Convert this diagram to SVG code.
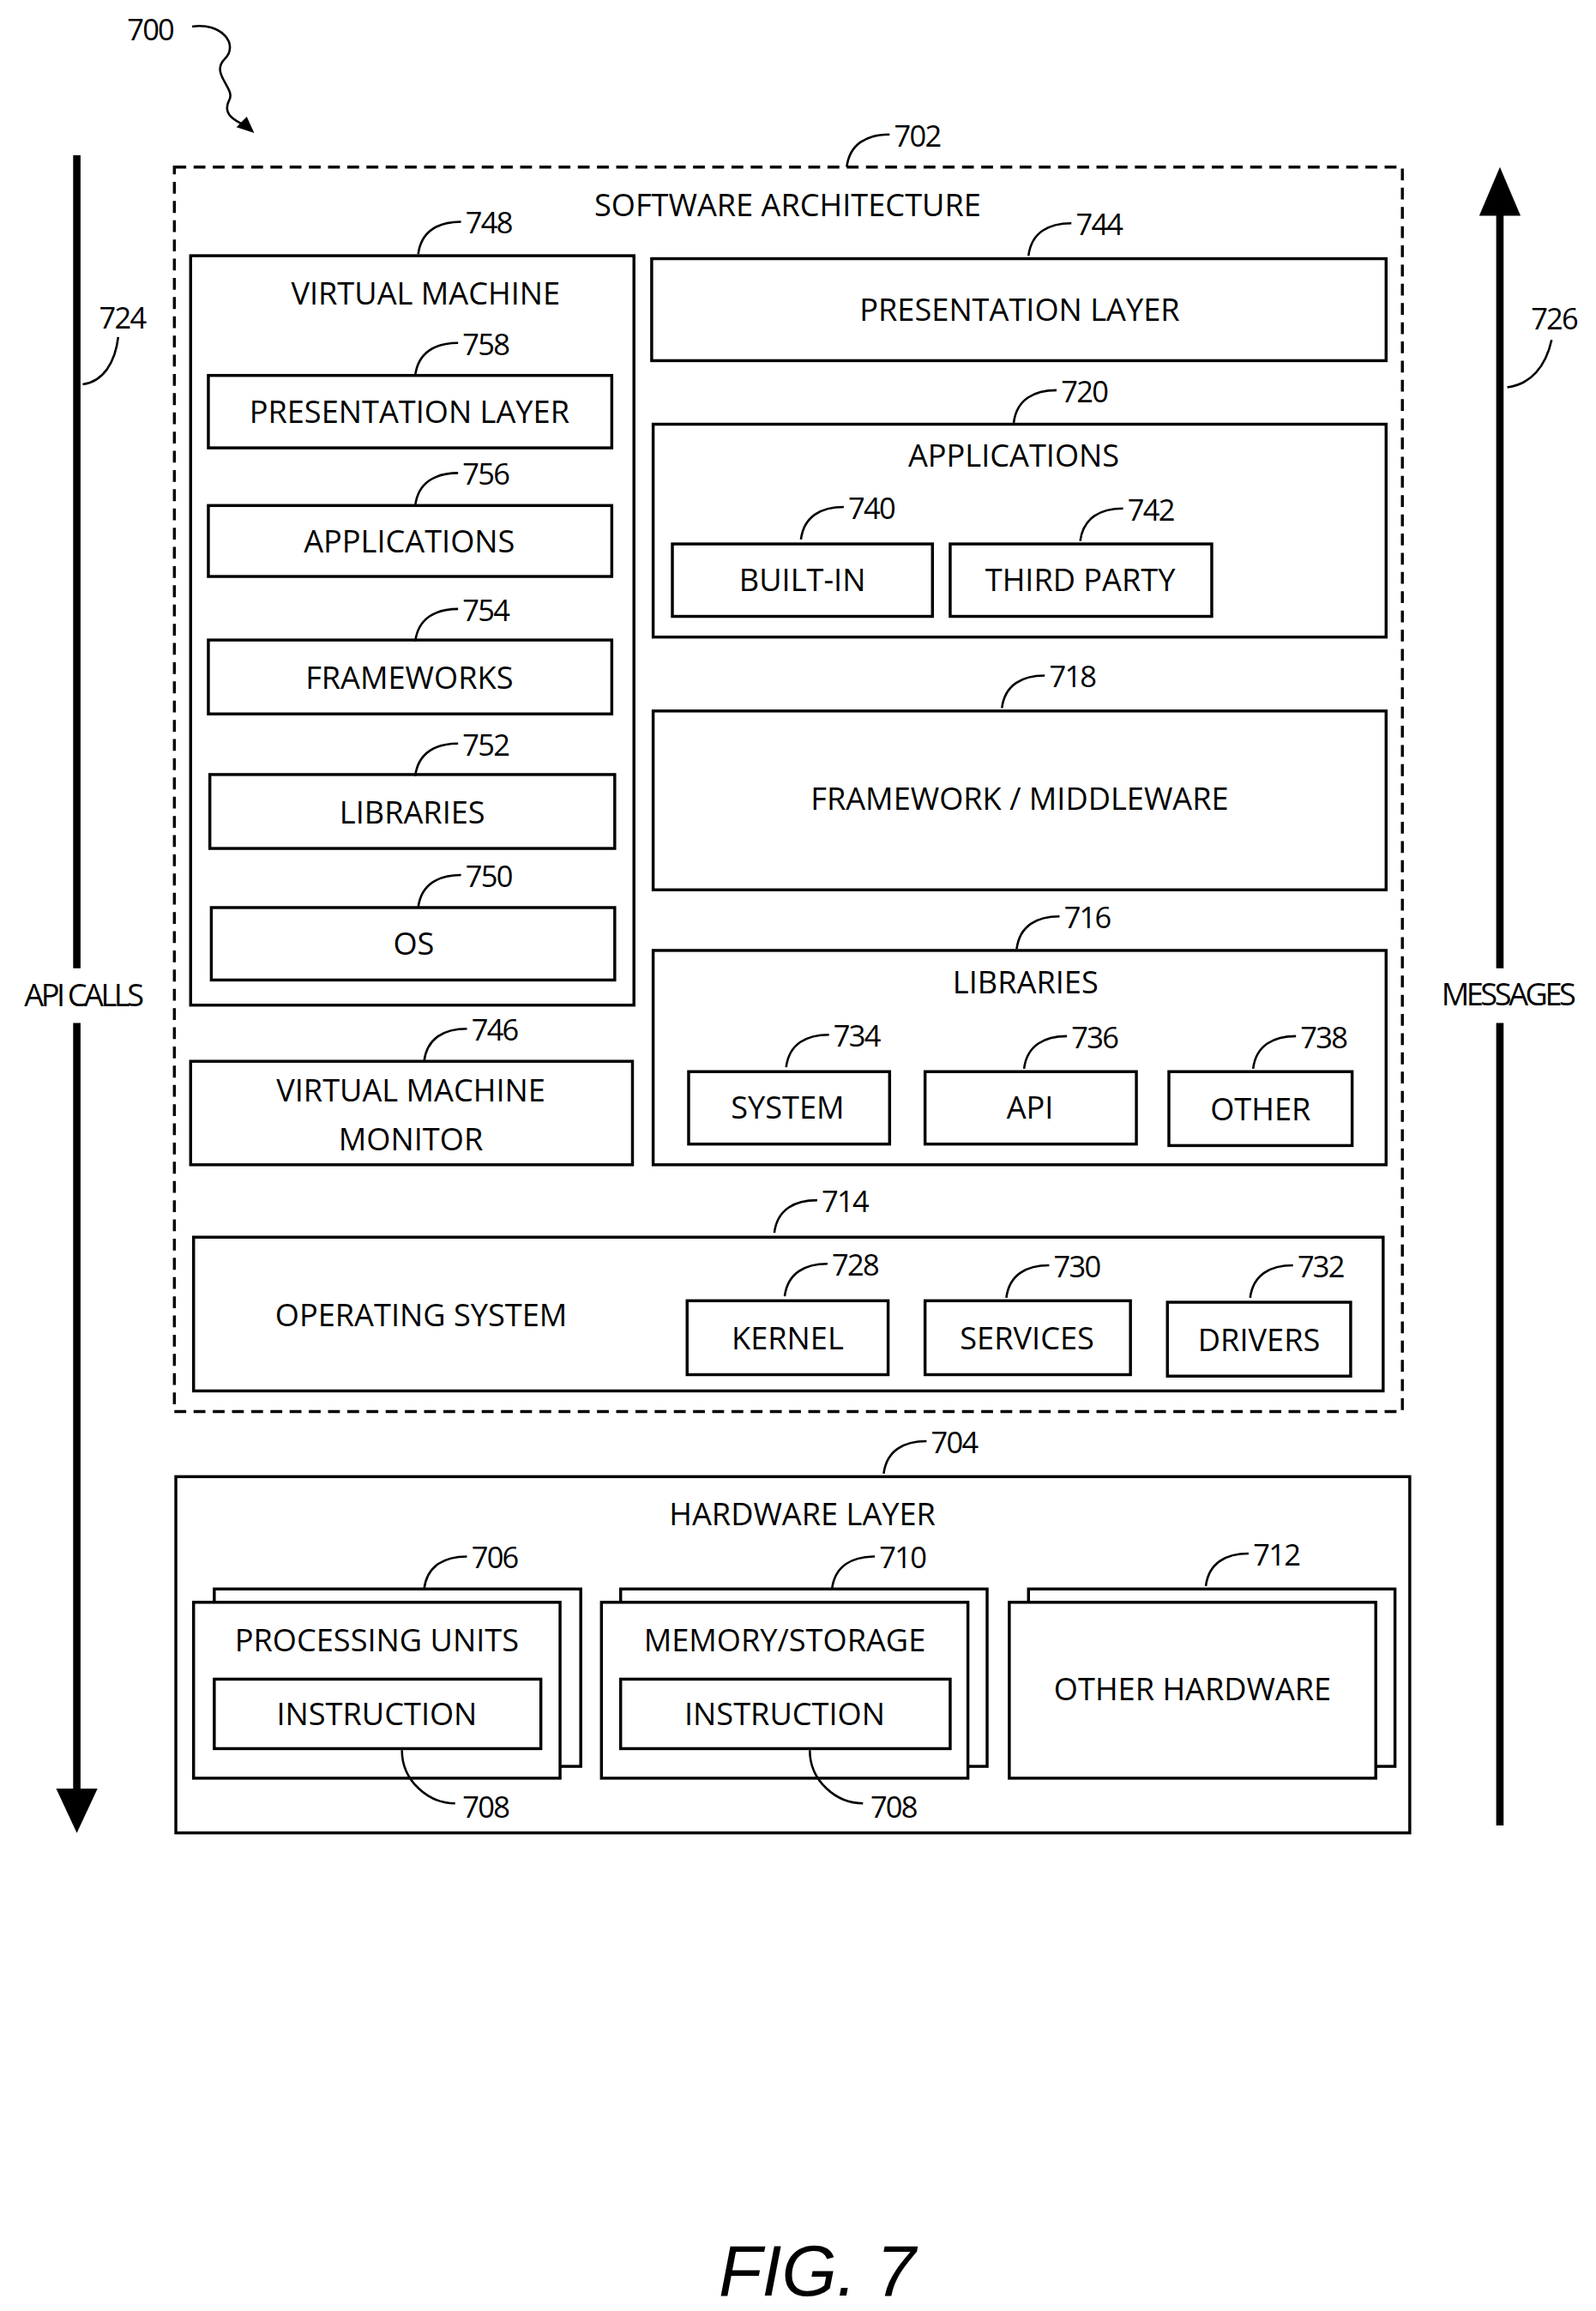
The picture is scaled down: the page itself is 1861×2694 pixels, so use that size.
<svg xmlns="http://www.w3.org/2000/svg" width="1861" height="2694" viewBox="0 0 1861 2694">
<style>
.b{fill:#fff;stroke:#000;stroke-width:2}
.t{font-family:"Open Sans","Liberation Sans",sans-serif;font-size:21px;fill:#000;text-anchor:middle}
.n{font-family:"Open Sans","Liberation Sans",sans-serif;font-size:20px;fill:#000;letter-spacing:-1px}
.l{fill:none;stroke:#000;stroke-width:1.5}
</style>
<rect width="1861" height="2694" fill="#fff"/>
<g transform="scale(1.7231)">
<g id="labels">
<text class="n" x="86" y="27">700</text>
<text class="n" x="67" y="222">724</text>
<text class="n" x="1036" y="223">726</text>
<text class="t" x="56" y="681" style="letter-spacing:-2px">API CALLS</text>
<text class="t" x="1020" y="680" style="letter-spacing:-2px">MESSAGES</text>
<text x="553" y="1553" font-family="Liberation Sans,sans-serif" font-style="italic" font-size="48" text-anchor="middle">FIG. 7</text>
</g>
<g id="n702"><rect x="118" y="113" width="831" height="842" fill="none" stroke="#000" stroke-width="2" stroke-dasharray="8,5"/><text class="t" x="533" y="146">SOFTWARE ARCHITECTURE</text></g>
<g id="n748"><rect class="b" x="129" y="173" width="300" height="507"/><text class="t" x="288" y="206">VIRTUAL MACHINE</text></g>
<g id="n758"><rect class="b" x="141" y="254" width="273" height="49"/><text class="t" x="277" y="286">PRESENTATION LAYER</text></g>
<g id="n756"><rect class="b" x="141" y="342" width="273" height="48"/><text class="t" x="277" y="374">APPLICATIONS</text></g>
<g id="n754"><rect class="b" x="141" y="433" width="273" height="50"/><text class="t" x="277" y="466">FRAMEWORKS</text></g>
<g id="n752"><rect class="b" x="142" y="524" width="274" height="50"/><text class="t" x="279" y="557">LIBRARIES</text></g>
<g id="n750"><rect class="b" x="143" y="614" width="273" height="49"/><text class="t" x="280" y="646">OS</text></g>
<g id="n746"><rect class="b" x="129" y="718" width="299" height="70"/><text class="t" x="278" y="745">VIRTUAL MACHINE</text><text class="t" x="278" y="778">MONITOR</text></g>
<g id="n744"><rect class="b" x="441" y="175" width="497" height="69"/><text class="t" x="690" y="217">PRESENTATION LAYER</text></g>
<g id="n720"><rect class="b" x="442" y="287" width="496" height="144"/><text class="t" x="686" y="316">APPLICATIONS</text></g>
<g id="n740"><rect class="b" x="455" y="368" width="176" height="49"/><text class="t" x="543" y="400">BUILT-IN</text></g>
<g id="n742"><rect class="b" x="643" y="368" width="177" height="49"/><text class="t" x="731" y="400">THIRD PARTY</text></g>
<g id="n718"><rect class="b" x="442" y="481" width="496" height="121"/><text class="t" x="690" y="548">FRAMEWORK / MIDDLEWARE</text></g>
<g id="n716"><rect class="b" x="442" y="643" width="496" height="145"/><text class="t" x="694" y="672">LIBRARIES</text></g>
<g id="n734"><rect class="b" x="466" y="725" width="136" height="49"/><text class="t" x="533" y="757">SYSTEM</text></g>
<g id="n736"><rect class="b" x="626" y="725" width="143" height="49"/><text class="t" x="697" y="757">API</text></g>
<g id="n738"><rect class="b" x="791" y="725" width="124" height="50"/><text class="t" x="853" y="758">OTHER</text></g>
<g id="n714"><rect class="b" x="131" y="837" width="805" height="104"/><text class="t" x="285" y="897">OPERATING SYSTEM</text></g>
<g id="n728"><rect class="b" x="465" y="880" width="136" height="50"/><text class="t" x="533" y="913">KERNEL</text></g>
<g id="n730"><rect class="b" x="626" y="880" width="139" height="50"/><text class="t" x="695" y="913">SERVICES</text></g>
<g id="n732"><rect class="b" x="790" y="881" width="124" height="50"/><text class="t" x="852" y="914">DRIVERS</text></g>
<g id="n704"><rect class="b" x="119" y="999" width="835" height="241"/><text class="t" x="543" y="1032">HARDWARE LAYER</text></g>
<g id="n706"><rect class="b" x="145" y="1075" width="248" height="120"/><rect class="b" x="131" y="1084" width="248" height="119"/><text class="t" x="255" y="1117">PROCESSING UNITS</text><rect class="b" x="145" y="1136" width="221" height="47"/><text class="t" x="255" y="1167">INSTRUCTION</text></g>
<g id="n710"><rect class="b" x="420" y="1075" width="248" height="120"/><rect class="b" x="407" y="1084" width="248" height="119"/><text class="t" x="531" y="1117">MEMORY/STORAGE</text><rect class="b" x="420" y="1136" width="223" height="47"/><text class="t" x="531" y="1167">INSTRUCTION</text></g>
<g id="n712"><rect class="b" x="696" y="1075" width="248" height="120"/><rect class="b" x="683" y="1084" width="248" height="119"/><text class="t" x="807" y="1150">OTHER HARDWARE</text></g>
<g id="connectors">
<line x1="52" y1="105" x2="52" y2="655" stroke="#000" stroke-width="5"/>
<line x1="52" y1="692" x2="52" y2="1212" stroke="#000" stroke-width="5"/>
<polygon points="38,1210 66,1210 52,1240"/>
<line x1="1015" y1="145" x2="1015" y2="655" stroke="#000" stroke-width="5"/>
<line x1="1015" y1="692" x2="1015" y2="1235" stroke="#000" stroke-width="5"/>
<polygon points="1001,146 1029,146 1015,113"/>
<path class="l" d="M130,18 C150,15 162,30 152,40 C142,50 160,60 155,68 C150,78 160,82 168,86"/>
<polygon points="172,90 160,86 167,79"/>
<path class="l" d="M56,260 C70,258 78,245 80,228"/>
<path class="l" d="M1020,262 C1036,260 1046,248 1050,230"/>
<path class="l" d="M272,1184 C272,1205 290,1220 308,1220"/>
<path class="l" d="M548,1184 C548,1205 566,1220 584,1220"/>
</g>
<g id="refs">
<g transform="translate(605,99)"><path class="l" d="M-32,14 C-30,-2 -18,-8 -3,-8"/><text class="n" x="0" y="0">702</text></g>
<g transform="translate(315,158)"><path class="l" d="M-32,14 C-30,-2 -18,-8 -3,-8"/><text class="n" x="0" y="0">748</text></g>
<g transform="translate(728,159)"><path class="l" d="M-32,14 C-30,-2 -18,-8 -3,-8"/><text class="n" x="0" y="0">744</text></g>
<g transform="translate(313,240)"><path class="l" d="M-32,14 C-30,-2 -18,-8 -3,-8"/><text class="n" x="0" y="0">758</text></g>
<g transform="translate(718,272)"><path class="l" d="M-32,14 C-30,-2 -18,-8 -3,-8"/><text class="n" x="0" y="0">720</text></g>
<g transform="translate(313,328)"><path class="l" d="M-32,14 C-30,-2 -18,-8 -3,-8"/><text class="n" x="0" y="0">756</text></g>
<g transform="translate(574,351)"><path class="l" d="M-32,14 C-30,-2 -18,-8 -3,-8"/><text class="n" x="0" y="0">740</text></g>
<g transform="translate(763,352)"><path class="l" d="M-32,14 C-30,-2 -18,-8 -3,-8"/><text class="n" x="0" y="0">742</text></g>
<g transform="translate(313,420)"><path class="l" d="M-32,14 C-30,-2 -18,-8 -3,-8"/><text class="n" x="0" y="0">754</text></g>
<g transform="translate(710,465)"><path class="l" d="M-32,14 C-30,-2 -18,-8 -3,-8"/><text class="n" x="0" y="0">718</text></g>
<g transform="translate(313,511)"><path class="l" d="M-32,14 C-30,-2 -18,-8 -3,-8"/><text class="n" x="0" y="0">752</text></g>
<g transform="translate(315,600)"><path class="l" d="M-32,14 C-30,-2 -18,-8 -3,-8"/><text class="n" x="0" y="0">750</text></g>
<g transform="translate(720,628)"><path class="l" d="M-32,14 C-30,-2 -18,-8 -3,-8"/><text class="n" x="0" y="0">716</text></g>
<g transform="translate(319,704)"><path class="l" d="M-32,14 C-30,-2 -18,-8 -3,-8"/><text class="n" x="0" y="0">746</text></g>
<g transform="translate(564,708)"><path class="l" d="M-32,14 C-30,-2 -18,-8 -3,-8"/><text class="n" x="0" y="0">734</text></g>
<g transform="translate(725,709)"><path class="l" d="M-32,14 C-30,-2 -18,-8 -3,-8"/><text class="n" x="0" y="0">736</text></g>
<g transform="translate(880,709)"><path class="l" d="M-32,14 C-30,-2 -18,-8 -3,-8"/><text class="n" x="0" y="0">738</text></g>
<g transform="translate(556,820)"><path class="l" d="M-32,14 C-30,-2 -18,-8 -3,-8"/><text class="n" x="0" y="0">714</text></g>
<g transform="translate(563,863)"><path class="l" d="M-32,14 C-30,-2 -18,-8 -3,-8"/><text class="n" x="0" y="0">728</text></g>
<g transform="translate(713,864)"><path class="l" d="M-32,14 C-30,-2 -18,-8 -3,-8"/><text class="n" x="0" y="0">730</text></g>
<g transform="translate(878,864)"><path class="l" d="M-32,14 C-30,-2 -18,-8 -3,-8"/><text class="n" x="0" y="0">732</text></g>
<g transform="translate(630,983)"><path class="l" d="M-32,14 C-30,-2 -18,-8 -3,-8"/><text class="n" x="0" y="0">704</text></g>
<g transform="translate(319,1061)"><path class="l" d="M-32,14 C-30,-2 -18,-8 -3,-8"/><text class="n" x="0" y="0">706</text></g>
<g transform="translate(595,1061)"><path class="l" d="M-32,14 C-30,-2 -18,-8 -3,-8"/><text class="n" x="0" y="0">710</text></g>
<g transform="translate(848,1059)"><path class="l" d="M-32,14 C-30,-2 -18,-8 -3,-8"/><text class="n" x="0" y="0">712</text></g>
<text class="n" x="313" y="1230">708</text>
<text class="n" x="589" y="1230">708</text>
</g>
</g>
</svg>
